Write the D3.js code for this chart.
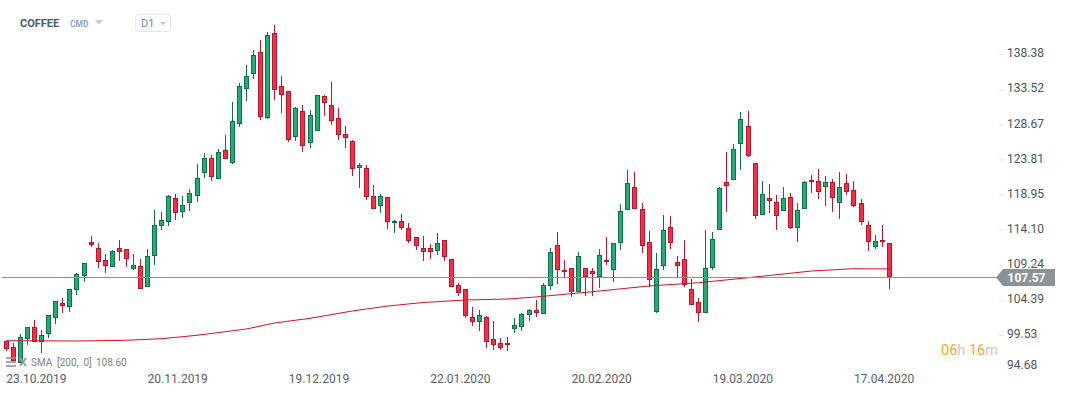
<!DOCTYPE html>
<html>
<head>
<meta charset="utf-8">
<script src="https://cdn.jsdelivr.net/npm/d3@7/dist/d3.min.js"></script>
<style>
html, body { margin: 0; padding: 0; background: #fff; overflow: hidden; }
svg { display: block; font-family: Roboto, sans-serif; }
</style>
</head>
<body>
<div id="chart"></div>
<script>
var opens = [98.69,97.82,95.61,99.01,100.59,98.51,99.70,101.91,103.90,103.43,
    105.70,107.72,112.34,111.51,109.85,108.88,111.51,111.37,108.69,109.02,
    106.12,110.49,114.64,115.19,118.42,116.57,117.82,118.78,121.96,123.96,
    121.05,125.06,123.26,128.74,133.50,135.57,138.61,129.57,141.24,133.91,
    133.22,126.86,130.46,126.03,127.69,132.53,131.28,129.49,127.27,126.31,
    122.55,122.57,118.70,117.40,118.56,114.97,115.24,114.28,113.03,111.51,
    111.51,111.10,112.62,109.99,106.39,105.84,101.97,101.28,101.97,98.93,
    98.37,98.37,100.31,100.59,102.24,102.94,102.38,106.25,111.92,108.47,
    108.74,105.40,108.74,108.33,107.58,109.85,108.47,112.20,116.76,119.95,
    116.90,112.34,102.74,109.02,114.41,109.57,109.99,105.84,104.04,102.52,
    108.74,114.00,120.64,120.91,125.89,128.38,123.26,116.07,118.42,117.87,
    116.63,118.56,114.28,116.90,120.91,120.78,119.95,120.64,117.73,120.50,
    119.53,117.73,114.69,111.65,112.62,112.20];
var highs = [98.69,98.37,99.66,100.67,101.59,100.21,102.29,104.22,104.64,105.84,
    108.05,109.44,113.21,112.24,110.72,111.27,112.66,111.37,110.72,109.99,
    111.37,116.81,116.53,118.88,119.02,118.74,119.71,123.17,124.65,124.41,
    125.20,127.18,131.74,134.37,136.86,138.93,140.32,141.42,142.39,135.34,
    133.22,131.01,131.33,130.64,132.67,132.71,134.51,130.91,128.42,126.45,
    123.26,122.99,120.26,118.98,118.56,115.42,116.25,115.01,113.03,113.21,
    112.10,113.63,112.62,109.99,106.67,105.84,103.35,102.94,102.11,101.46,
    99.06,99.20,101.83,102.52,103.07,104.36,106.67,111.55,113.72,109.89,
    108.74,111.00,108.74,108.74,111.41,113.03,112.20,117.59,122.34,122.02,
    117.73,113.90,110.82,116.07,115.94,110.40,112.62,107.22,104.60,114.00,
    113.72,119.95,124.83,125.89,130.32,130.50,123.26,120.82,120.40,118.88,
    119.99,119.16,117.77,120.82,121.65,122.48,121.51,121.05,122.06,121.78,
    120.82,118.33,115.29,113.35,114.73,112.20];
var lows = [97.31,95.92,95.61,98.14,98.55,96.99,99.15,101.04,102.60,102.70,
    105.09,106.85,111.73,108.83,108.14,108.88,109.75,108.97,108.51,105.84,
    106.12,109.20,114.04,114.59,115.42,115.70,116.67,117.95,121.27,120.86,
    121.05,123.82,123.17,128.28,131.92,134.92,129.25,129.43,132.02,130.26,
    126.25,126.39,124.87,125.42,127.69,129.85,128.60,126.53,125.38,121.55,
    119.89,118.23,116.99,116.43,114.22,113.67,114.08,112.28,111.32,109.80,
    110.07,110.62,109.80,106.12,104.95,101.91,100.81,100.11,97.76,97.49,
    97.49,97.35,99.84,100.11,101.50,102.05,102.38,105.78,106.61,107.54,
    104.82,105.40,104.95,104.95,106.06,109.24,106.89,111.32,116.76,116.90,
    110.90,106.20,102.60,108.55,111.45,107.58,106.20,103.63,101.36,102.52,
    108.47,114.00,116.57,120.91,122.38,124.09,115.60,116.07,116.43,114.08,
    116.63,114.18,112.42,116.90,119.20,118.37,117.40,116.57,115.60,118.92,
    117.26,114.77,111.18,111.37,111.73,105.92];
var closes = [97.54,95.97,99.20,100.59,98.59,99.48,102.24,104.18,103.57,105.84,
    107.96,109.44,112.01,109.66,109.02,111.10,110.96,109.99,109.16,105.84,
    110.40,114.69,115.38,118.70,116.43,117.46,119.12,121.19,123.96,121.41,
    124.79,123.82,129.07,133.91,135.30,138.20,129.71,140.97,133.36,132.67,
    126.45,130.87,125.62,129.90,132.67,131.56,129.07,127.14,126.72,122.43,
    122.99,118.56,116.99,118.70,115.11,115.24,114.36,112.56,111.79,110.96,
    110.96,112.20,110.35,106.12,105.29,102.11,101.28,102.24,98.51,98.10,
    97.68,98.10,100.86,102.38,102.94,102.60,106.39,110.96,108.47,108.19,
    105.42,110.40,107.58,108.00,110.54,109.57,112.20,116.63,120.50,116.90,
    111.79,107.08,108.61,114.00,112.20,109.02,106.39,103.63,102.52,108.74,
    112.75,119.81,120.19,125.20,129.35,124.23,115.94,118.98,118.01,115.94,
    118.42,114.36,116.76,120.64,120.64,119.25,120.64,118.42,119.95,119.25,
    117.40,115.11,112.34,112.48,112.34,107.57];

var smaIndex = [0,10,17,22,27,34,38,43,49,54,59,65,71,75,83,91,98,105,114,120,125];
var smaValues = [98.73,98.69,98.79,99.01,99.48,100.35,101.18,101.83,102.84,103.53,104.01,
    104.36,104.50,104.78,105.51,106.30,106.75,107.44,108.37,108.69,108.66];

var priceTicks = [94.68,99.53,104.39,109.24,114.10,118.95,123.81,128.67,133.52,138.38];
var dateIndex = [0,20,40,60,80,100,120];
var dateLabels = ["23.10.2019","20.11.2019","19.12.2019","22.01.2020","20.02.2020","19.03.2020","17.04.2020"];
var lastPrice = 107.57;

var width = 1067, height = 395;
var svg = d3.select("#chart").append("svg")
    .attr("width", width)
    .attr("height", height);

var x = d3.scaleLinear().domain([0, opens.length - 1]).range([6.3, 889.3]);
var y = d3.scaleLinear().domain([94.68, 138.38]).range([370, 54]);

function cx(i) {
    return Math.floor(x(i)) + 0.5;
}

//price axis
var yAxis = d3.axisRight(y)
    .tickValues(priceTicks)
    .tickSize(5)
    .tickPadding(3)
    .tickFormat(d3.format(".2f"));
var yG = svg.append("g")
    .attr("transform", "translate(999,0)")
    .call(yAxis);
yG.select(".domain").remove();
yG.selectAll("line").attr("stroke", "#e6e6e6");
yG.selectAll("text")
    .attr("font-size", 12)
    .attr("font-family", "Roboto")
    .attr("fill", "#4d5559")
    .attr("y", -1);
//lowest label sits higher than its tick
yG.selectAll(".tick").filter(d => d === 94.68).select("line").remove();
yG.selectAll(".tick").filter(d => d === 94.68).select("text").attr("y", -5);

//date axis
var xAxis = d3.axisBottom(x)
    .tickValues(dateIndex)
    .tickSize(3)
    .tickPadding(2)
    .tickFormat((d, i) => dateLabels[i]);
var xG = svg.append("g")
    .attr("transform", "translate(0,369)")
    .call(xAxis);
xG.select(".domain").remove();
xG.selectAll("line").attr("stroke", "#ececec");
xG.selectAll("text")
    .attr("font-size", 12)
    .attr("font-family", "Roboto")
    .attr("fill", "#5a6064")
    .attr("dx", -0.5)
    .style("text-anchor", "start");

//candles
var red = { fill: "#ff2b44", line: "#b8162c" };
var green = { fill: "#20ae72", line: "#0f6f49" };
var candles = svg.append("g");
opens.forEach(function(open, i) {
    var col = closes[i] < open ? red : green;
    var top = Math.round(y(Math.max(open, closes[i])));
    var bot = Math.round(y(Math.min(open, closes[i])));
    candles.append("line")
        .attr("x1", cx(i))
        .attr("x2", cx(i))
        .attr("y1", Math.round(y(highs[i])))
        .attr("y2", Math.round(y(lows[i])))
        .attr("stroke", col.line);
    candles.append("rect")
        .attr("x", cx(i) - 2)
        .attr("y", top + 0.5)
        .attr("width", 4)
        .attr("height", Math.max(bot - top - 1, 1))
        .attr("fill", col.fill)
        .attr("stroke", col.line);
});

//sma
var smaLine = d3.line()
    .x((d, i) => x(smaIndex[i]))
    .y(d => y(d));
svg.append("path")
    .attr("d", smaLine(smaValues))
    .attr("fill", "none")
    .attr("stroke", "#d8101f")
    .attr("stroke-width", 1);

//last price line and tag
var lastY = Math.round(y(lastPrice)) + 0.5;
svg.append("line")
    .attr("x1", 2)
    .attr("x2", 998)
    .attr("y1", lastY)
    .attr("y2", lastY)
    .attr("stroke", "#8b9396");
svg.append("path")
    .attr("d", "M996," + lastY + " L1003," + (lastY - 8.5) + " H1055 V" + (lastY + 8.5) + " H1003 Z")
    .attr("fill", "#8b9396");
svg.append("text")
    .attr("x", 1007.5)
    .attr("y", lastY + 4.5)
    .attr("font-size", 12)
    .attr("font-weight", "bold")
    .attr("fill", "#fff")
    .text(d3.format(".2f")(lastPrice));

//header
svg.append("text")
    .attr("x", 20)
    .attr("y", 27)
    .attr("font-size", 11)
    .attr("font-weight", "bold")
    .attr("fill", "#4a5a64")
    .text("COFFEE");
svg.append("text")
    .attr("x", 70)
    .attr("y", 27)
    .attr("font-size", 8.5)
    .attr("font-weight", "bold")
    .attr("fill", "#93a6b2")
    .text("CMD");
svg.append("path")
    .attr("d", "M95,20 H103 L99,24.5 Z")
    .attr("fill", "#cbcbcb");
svg.append("rect")
    .attr("x", 135.5)
    .attr("y", 14.5)
    .attr("width", 35)
    .attr("height", 17)
    .attr("rx", 3)
    .attr("fill", "#fff")
    .attr("stroke", "#e8e8e8");
svg.append("text")
    .attr("x", 141)
    .attr("y", 27)
    .attr("font-size", 11)
    .attr("fill", "#7f8a8f")
    .text("D1");
svg.append("path")
    .attr("d", "M160,22 H166.5 L163.2,25.5 Z")
    .attr("fill", "#cbcbcb");

//indicator legend
var legend = svg.append("g");
[357, 361, 365].forEach(function(ly) {
    legend.append("rect")
        .attr("x", 6)
        .attr("y", ly)
        .attr("width", 10)
        .attr("height", 2)
        .attr("fill", "#8f8f8f")
        .attr("opacity", 0.8);
});
legend.append("path")
    .attr("d", "M20,358 L26,366 M26,358 L20,366")
    .attr("stroke", "#9a9a9a")
    .attr("stroke-width", 2);
var legendText = legend.append("text")
    .attr("y", 366)
    .attr("font-size", 10)
    .attr("fill", "#7d8285");
[["SMA", 31], ["[200,  0]", 57], ["108.60", 96]].forEach(function(t) {
    legendText.append("tspan")
        .attr("x", t[1])
        .style("white-space", "pre")
        .text(t[0]);
});

//countdown
var timer = svg.append("text")
    .attr("x", 941)
    .attr("y", 355)
    .attr("font-size", 14.5);
[["06", "#f7a530"], ["h ", "#c6cacc"], ["16", "#f7a530"], ["m", "#c6cacc"]].forEach(function(t) {
    timer.append("tspan")
        .attr("fill", t[1])
        .style("white-space", "pre")
        .text(t[0]);
});
</script>
</body>
</html>
